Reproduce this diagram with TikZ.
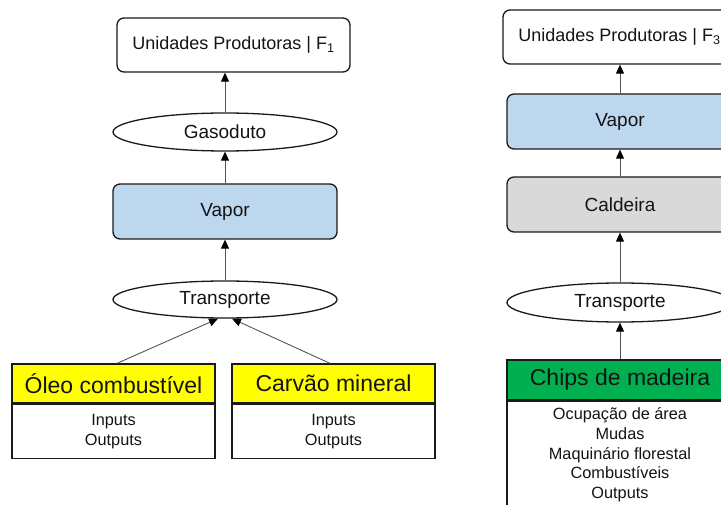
\documentclass[tikz,border=0pt]{standalone}
\usepackage{fontspec}
\setmainfont{Liberation Sans}
\usetikzlibrary{shapes.geometric,arrows.meta}

\definecolor{vaporblue}{RGB}{189,215,238}
\definecolor{caldgray}{RGB}{217,217,217}
\definecolor{oilyellow}{RGB}{255,255,0}
\definecolor{chipgreen}{RGB}{0,176,80}
\definecolor{edge}{RGB}{26,26,26}
\definecolor{link}{RGB}{85,85,85}

\tikzset{
  unit/.style={draw=edge, line width=1.3bp, rounded corners=7bp, fill=white,
    inner sep=0pt, text=black!92, font=\fontsize{18bp}{21bp}\selectfont},
  stage/.style={unit, font=\fontsize{19bp}{22bp}\selectfont},
  route/.style={ellipse, draw=edge, line width=1.3bp, fill=white, inner sep=0pt,
    text=black!92, font=\fontsize{19bp}{22bp}\selectfont},
  srchead/.style={draw=edge, line width=1.3bp, inner sep=0pt, text=black!92,
    font=\fontsize{23bp}{27bp}\selectfont},
  srcbody/.style={draw=edge, line width=1.3bp, inner sep=0pt, align=center,
    anchor=north, fill=white, text=black!92,
    font=\fontsize{16.3bp}{19.7bp}\selectfont},
  flow/.style={draw=link, line width=0.9bp,
    -{Triangle[width=8bp,length=9bp,color=black]}}
}

\begin{document}
\begin{tikzpicture}[x=1bp, y=-1bp]
\useasboundingbox (0,0) rectangle (721,505);
\clip (0,0) rectangle (721,505);

% ---- chain F1: fuel oil and coal ----
\node[unit, minimum width=233bp, minimum height=54bp] (f1) at (233.5,45)
  {Unidades Produtoras | F\textsubscript{1}};
\node[route, minimum width=224bp, minimum height=38bp] (gasL) at (225,132) {Gasoduto};
\node[stage, fill=vaporblue, minimum width=224bp, minimum height=55bp] (vapL) at (225,211.5) {Vapor};
\node[route, minimum width=224bp, minimum height=37bp] (trL) at (225,299.5) {Transporte};

\node[srchead, fill=oilyellow, minimum width=203bp, minimum height=39bp] (oleoH) at (113.5,383.5)
  {Óleo combustível};
\node[srcbody, minimum width=203bp, minimum height=54bp] (oleoB) at (oleoH.south)
  {Inputs\\Outputs};
\node[srchead, fill=oilyellow, minimum width=203bp, minimum height=39bp] (carvH) at (333.5,383.5)
  {Carvão mineral};
\node[srcbody, minimum width=203bp, minimum height=54bp] (carvB) at (carvH.south)
  {Inputs\\Outputs};

\draw[flow] (gasL.north) -- (gasL.north |- f1.south);
\draw[flow] (vapL.north) -- (gasL.south);
\draw[flow] (trL.north) -- (vapL.south);
\draw[flow] ([xshift=3.5bp]oleoH.north) -- ([xshift=-7bp]trL.south);
\draw[flow] ([xshift=-3.5bp]carvH.north) -- ([xshift=7bp]trL.south);

% ---- chain F3: wood chips ----
\node[unit, minimum width=233bp, minimum height=54bp] (f3) at (619.5,37)
  {Unidades Produtoras | F\textsubscript{3}};
\node[stage, fill=vaporblue, minimum width=226bp, minimum height=55bp] (vapR) at (620,121.5) {Vapor};
\node[stage, fill=caldgray, minimum width=226bp, minimum height=55bp] (cald) at (620,204.5) {Caldeira};
\node[route, minimum width=226bp, minimum height=39bp] (trR) at (620,302.5) {Transporte};

\node[srchead, fill=chipgreen, minimum width=226bp, minimum height=40bp] (chipH) at (620,380)
  {Chips de madeira};
\node[srcbody, minimum width=226bp, minimum height=107bp] (chipB) at (chipH.south)
  {Ocupação de área\\Mudas\\Maquinário florestal\\Combustíveis\\Outputs};

\draw[flow] (vapR.north) -- (vapR.north |- f3.south);
\draw[flow] (cald.north) -- (vapR.south);
\draw[flow] (trR.north) -- (cald.south);
\draw[flow] (chipH.north) -- (trR.south);
\end{tikzpicture}
\end{document}
